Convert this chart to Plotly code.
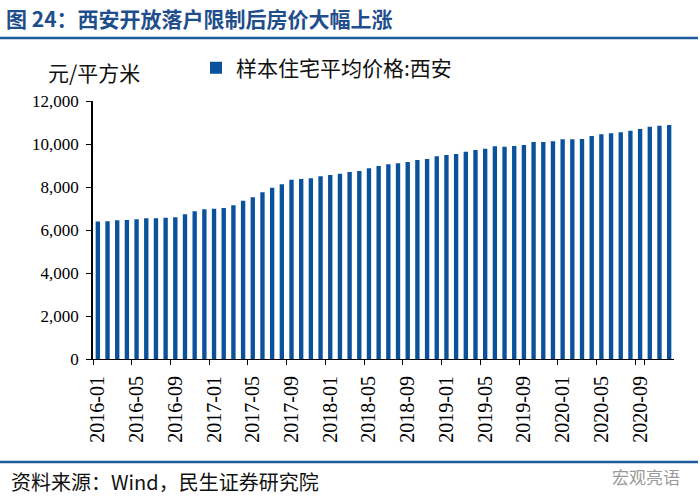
import plotly.graph_objects as go

months = [f"{y}-{m:02d}" for y in range(2016, 2021) for m in range(1, 13)]
prices = [
    6390, 6405, 6450, 6465, 6500, 6545, 6545, 6570, 6590, 6730, 6870, 6965,
    6990, 7025, 7150, 7365, 7520, 7755, 7965, 8125, 8340, 8370, 8405, 8500,
    8560, 8620, 8700, 8745, 8870, 8975, 9055, 9100, 9165, 9255, 9300, 9430,
    9490, 9535, 9640, 9720, 9780, 9895, 9875, 9905, 9955, 10095, 10095, 10125,
    10220, 10220, 10235, 10370, 10450, 10500, 10545, 10620, 10700, 10805, 10850, 10885,
]
tick_months = months[::4]
y_ticks = [0, 2000, 4000, 6000, 8000, 10000, 12000]
series_name = "样本住宅平均价格:西安"

BLUE = "#0A529C"
LINE_BLUE = "#1F5C9E"
CJK = "Noto Sans CJK SC"
SERIF = "Times New Roman, Liberation Serif, serif"

W, H = 700, 501
L, R, T, B = 93, 26, 101, 142
PW, PH = W - L - R, H - T - B


def px(x):
    return (x - L) / PW


def py(y):
    return (H - B - y) / PH


fig = go.Figure()
fig.add_trace(go.Bar(
    x=months, y=prices, name=series_name,
    marker=dict(color=BLUE, line=dict(width=0)),
))

fig.update_layout(
    width=W, height=H,
    margin=dict(l=L, r=R, t=T, b=B),
    paper_bgcolor="white", plot_bgcolor="white",
    bargap=0.55,
    showlegend=True,
    legend=dict(
        x=px(196), y=py(68), xanchor="left", yanchor="middle",
        orientation="h",
        font=dict(family=CJK, size=21, color="#111111"),
        itemwidth=30, bgcolor="rgba(0,0,0,0)",
    ),
    xaxis=dict(
        type="category",
        tickmode="array", tickvals=tick_months, ticktext=tick_months,
        tickson="boundaries",
        tickangle=-90,
        ticks="outside", ticklen=5, tickcolor="black", tickwidth=1,
        ticklabelstandoff=8,
        showline=True, linecolor="black", linewidth=1,
        showgrid=False, automargin=False,
        tickfont=dict(family=SERIF, size=20, color="black"),
        range=[-0.5, 59.5],
    ),
    yaxis=dict(
        range=[0, 12000],
        tickvals=y_ticks,
        tickformat=",d",
        ticks="outside", ticklen=5, tickcolor="black", tickwidth=1,
        ticklabelstandoff=4,
        showline=True, linecolor="black", linewidth=1.5,
        showgrid=False, zeroline=False, automargin=False,
        tickfont=dict(family=SERIF, size=17, color="black"),
    ),
)

fig.add_annotation(
    text="<b>图 24：西安开放落户限制后房价大幅上涨</b>",
    xref="paper", yref="paper", x=px(4), y=py(18),
    xanchor="left", yanchor="middle", showarrow=False,
    font=dict(family=CJK, size=21, color="#1F4E8C"),
)
fig.add_annotation(
    text="元/平方米",
    xref="paper", yref="paper", x=px(46), y=py(72),
    xanchor="left", yanchor="middle", showarrow=False,
    font=dict(family=CJK, size=21, color="#111111"),
)
fig.add_annotation(
    text="资料来源：Wind，民生证券研究院",
    xref="paper", yref="paper", x=px(9), y=py(481),
    xanchor="left", yanchor="middle", showarrow=False,
    font=dict(family=CJK, size=20, color="#111111"),
)
fig.add_annotation(
    text="宏观亮语",
    xref="paper", yref="paper", x=px(682), y=py(476),
    xanchor="right", yanchor="middle", showarrow=False,
    font=dict(family=CJK, size=17, color="#9a9a9a"),
)
fig.add_shape(type="line", xref="paper", yref="paper",
              x0=px(0), x1=px(698), y0=py(38), y1=py(38),
              line=dict(color=LINE_BLUE, width=2.5))
fig.add_shape(type="line", xref="paper", yref="paper",
              x0=px(0), x1=px(698), y0=py(462), y1=py(462),
              line=dict(color=LINE_BLUE, width=2.5))

fig.write_html("out.html", config={"displayModeBar": False},
               post_script="document.body.style.margin='0';")
